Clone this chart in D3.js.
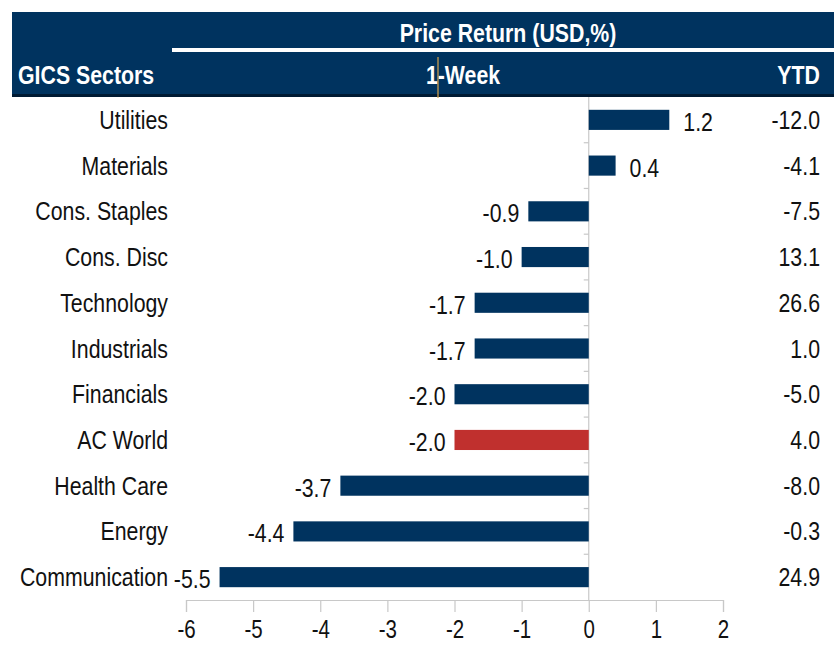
<!DOCTYPE html>
<html>
<head>
<meta charset="utf-8">
<script src="https://cdn.jsdelivr.net/npm/d3@7"></script>
<style>
  body { margin: 0; background: #fff; }
  svg text { font-family: "Liberation Sans", Arial, sans-serif; }
</style>
</head>
<body>
<svg id="chart" width="834" height="646"></svg>
<script>
const sectors = ["Utilities", "Materials", "Cons. Staples", "Cons. Disc", "Technology", "Industrials",
  "Financials", "AC World", "Health Care", "Energy", "Communication"];
const weekReturn = [1.2, 0.4, -0.9, -1.0, -1.7, -1.7, -2.0, -2.0, -3.7, -4.4, -5.5];
const ytdReturn = ["-12.0", "-4.1", "-7.5", "13.1", "26.6", "1.0", "-5.0", "4.0", "-8.0", "-0.3", "24.9"];
const xTicks = [-6, -5, -4, -3, -2, -1, 0, 1, 2];

const NAVY = "#00335f";
const RED = "#c0302e";
const NARROW = 0.82; // no Arial Narrow installed, squeeze Liberation Sans instead
const FS = 26;

const svg = d3.select("#chart");

// narrow text helper
const ntext = (parent, x, y, t, anchor) => parent.append("text")
  .attr("transform", `translate(${x},${y}) scale(${NARROW},1)`)
  .attr("text-anchor", anchor).attr("font-size", FS).text(t);

// header band
svg.append("rect").attr("x", 12).attr("y", 12).attr("width", 822).attr("height", 84).attr("fill", NAVY);
svg.append("rect").attr("x", 12).attr("y", 94).attr("width", 822).attr("height", 3).attr("fill", "#001a33");
svg.append("rect").attr("x", 172).attr("y", 48).attr("width", 662).attr("height", 4).attr("fill", "#fff");

ntext(svg, 508, 42, "Price Return (USD,%)", "middle").attr("fill", "#fff").attr("font-weight", "bold");
ntext(svg, 18, 84, "GICS Sectors", "start").attr("fill", "#fff").attr("font-weight", "bold");
ntext(svg, 463, 84, "1-Week", "middle").attr("fill", "#fff").attr("font-weight", "bold");
ntext(svg, 820, 84, "YTD", "end").attr("fill", "#fff").attr("font-weight", "bold");
svg.append("line").attr("x1", 438).attr("x2", 438).attr("y1", 57).attr("y2", 98)
  .attr("stroke", "#d9a44a").attr("stroke-width", 1.2);

// scales
const x = d3.scaleLinear().domain([-6, 2]).range([186, 723]);
const y = d3.scaleBand().domain(sectors).range([97, 600]).paddingInner(0.56).paddingOuter(0.28);

// zero line + small ticks at band boundaries
svg.append("line").attr("x1", x(0)).attr("x2", x(0)).attr("y1", 97).attr("y2", 600)
  .attr("stroke", "#c8c8c8").attr("stroke-width", 1.2);
const step = y.step();
sectors.slice(1).forEach((s, i) => {
  const yy = 97 + step * (i + 1);
  svg.append("line").attr("x1", x(0) - 5).attr("x2", x(0)).attr("y1", yy).attr("y2", yy)
    .attr("stroke", "#c8c8c8").attr("stroke-width", 1.2);
});

// bars
svg.selectAll("rect.bar").data(sectors).join("rect")
  .attr("class", "bar")
  .attr("x", (d, i) => x(Math.min(0, weekReturn[i])))
  .attr("width", (d, i) => Math.abs(x(weekReturn[i]) - x(0)))
  .attr("y", d => y(d))
  .attr("height", y.bandwidth())
  .attr("fill", d => d === "AC World" ? RED : NAVY);

sectors.forEach((s, i) => {
  const cy = y(s) + y.bandwidth() / 2;
  // category label
  ntext(svg, 168, cy + 9, s, "end").attr("fill", "#111");
  // value label
  const v = weekReturn[i];
  if (v >= 0) ntext(svg, x(v) + 14, cy + 11, v.toFixed(1), "start").attr("fill", "#111");
  else ntext(svg, x(v) - 9, cy + 11, v.toFixed(1), "end").attr("fill", "#111");
  // YTD column
  ntext(svg, 820, cy + 9, ytdReturn[i], "end").attr("fill", "#111");
});

// x axis
const axis = svg.append("g").attr("transform", "translate(0,600)")
  .call(d3.axisBottom(x).tickValues(xTicks).tickSize(12).tickPadding(8).tickFormat(d => String(d)));
axis.select(".domain").attr("stroke", "#c8c8c8").attr("stroke-width", 1.2);
axis.selectAll(".tick line").attr("stroke", "#c8c8c8").attr("stroke-width", 1.2);
axis.selectAll(".tick text").attr("font-size", FS - 1).attr("fill", "#111")
  .attr("transform", `scale(${NARROW},1)`)
  .style("font-family", "'Liberation Sans', Arial, sans-serif");
</script>
</body>
</html>
